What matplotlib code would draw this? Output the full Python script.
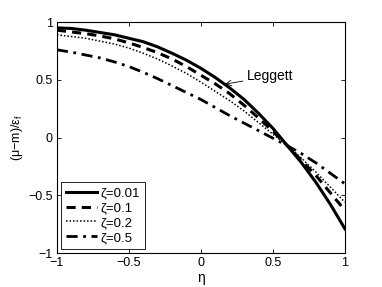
import numpy as np
from matplotlib import pyplot as plt

plt.rcParams['font.family'] = ['Liberation Sans', 'DejaVu Sans']
plt.rcParams['mathtext.fontset'] = 'custom'
plt.rcParams['mathtext.rm'] = 'Liberation Sans'

eta = np.round(np.arange(-1.0, 1.01, 0.1), 2)

zeta_001 = [0.95, 0.945, 0.93, 0.91, 0.89, 0.86, 0.83, 0.785, 0.73, 0.67, 0.60,
            0.52, 0.43, 0.33, 0.21, 0.08, -0.07, -0.22, -0.39, -0.58, -0.79]
zeta_01 = [0.93, 0.915, 0.90, 0.88, 0.855, 0.82, 0.78, 0.735, 0.68, 0.615, 0.54,
           0.465, 0.38, 0.28, 0.17, 0.055, -0.07, -0.20, -0.33, -0.48, -0.63]
zeta_02 = [0.89, 0.875, 0.86, 0.835, 0.81, 0.775, 0.73, 0.68, 0.62, 0.555, 0.48,
           0.40, 0.32, 0.23, 0.13, 0.03, -0.07, -0.18, -0.30, -0.43, -0.56]
zeta_05 = [0.76, 0.74, 0.715, 0.69, 0.655, 0.615, 0.565, 0.51, 0.45, 0.39, 0.33,
           0.26, 0.19, 0.125, 0.06, -0.005, -0.07, -0.14, -0.22, -0.31, -0.40]

labels = ['ζ=0.01', 'ζ=0.1', 'ζ=0.2', 'ζ=0.5']
ticks = [-1, -0.5, 0, 0.5, 1]

fig = plt.figure(figsize=(3.82, 2.87), dpi=100)
ax = fig.add_axes([0.149, 0.118, 0.754, 0.805])

ax.plot(eta, zeta_001, '-', color='k', lw=2.2, label=labels[0])
ax.plot(eta, zeta_01, '--', color='k', lw=2.2, dashes=(3, 2), label=labels[1])
ax.plot(eta, zeta_02, ':', color='k', lw=1.1, dashes=(1, 1.3), label=labels[2])
ax.plot(eta, zeta_05, '-.', color='k', lw=2.0, dashes=(4, 2, 1, 2), label=labels[3])

ax.annotate('Leggett', xy=(0.167, 0.463), xytext=(0.32, 0.53),
            fontsize=10, va='center', ha='left',
            arrowprops=dict(arrowstyle='->', color='k', lw=0.6,
                            shrinkA=1, shrinkB=0))

ax.set_xlim(-1, 1)
ax.set_ylim(-1, 1)
ax.set_xticks(ticks)
ax.set_yticks(ticks)
ax.set_xticklabels(['−1', '−0.5', '0', '0.5', '1'])
ax.set_yticklabels(['−1', '−0.5', '0', '0.5', '1'])
ax.tick_params(direction='in', top=True, right=True, length=3, width=0.6,
               labelsize=9, pad=3)
for s in ax.spines.values():
    s.set_linewidth(0.8)

ax.set_xlabel('η', fontsize=10, labelpad=1)
ax.set_ylabel('(μ−m)/ε$_\\mathregular{f}$', fontsize=9, labelpad=2)

leg = ax.legend(loc='lower left', fontsize=9.5, frameon=True, fancybox=False,
                edgecolor='k', framealpha=1, handlelength=2.3,
                borderaxespad=0.3, labelspacing=0.2, handletextpad=0.3,
                borderpad=0.4)
leg.get_frame().set_linewidth(0.6)

fig.savefig('out.png', dpi=100)
